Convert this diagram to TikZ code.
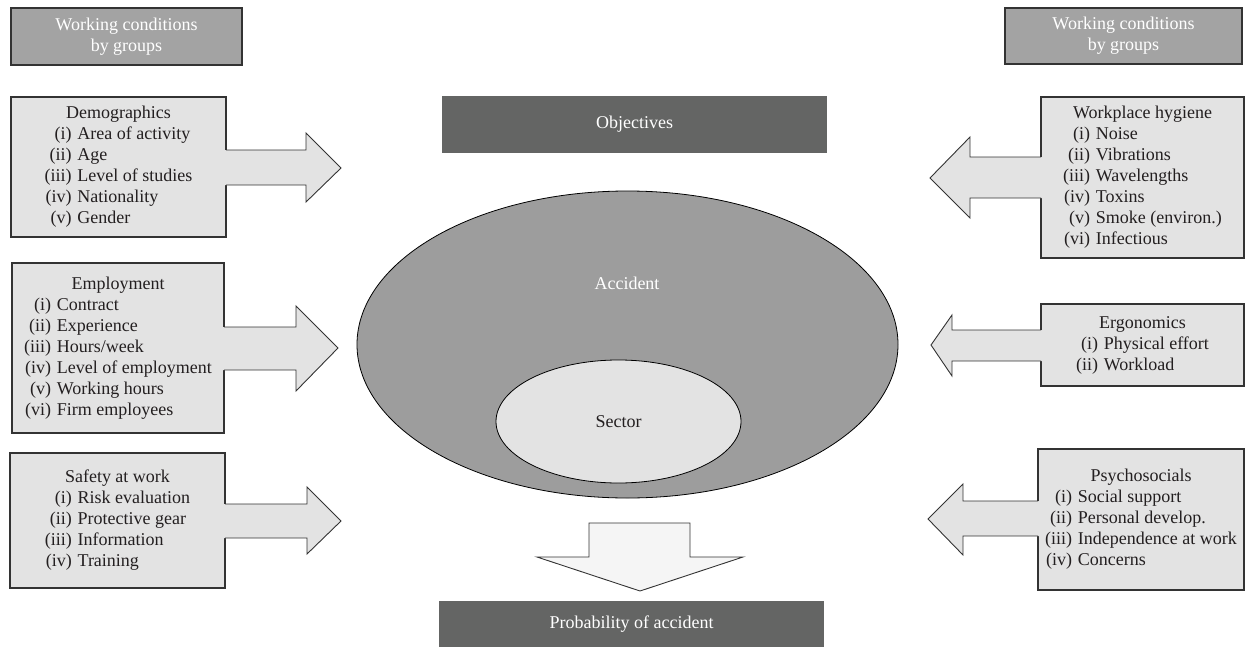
\documentclass[tikz,border=0pt]{standalone}
\usepackage{fontspec}
\setmainfont{Liberation Serif}
\usetikzlibrary{shapes.geometric}
\definecolor{hdrfill}{HTML}{A3A3A3}
\definecolor{itemfill}{HTML}{E3E3E3}
\definecolor{darkfill}{HTML}{646564}
\definecolor{accfill}{HTML}{9D9D9D}
\definecolor{downfill}{HTML}{F5F5F5}
\definecolor{ink}{HTML}{231F20}
\definecolor{edge}{HTML}{333333}
\newcommand{\grp}[2]{{\renewcommand{\arraystretch}{1}\begin{tabular}{@{}r@{\hspace{0.32em}}l@{}}\multicolumn{2}{c}{#1}\\#2\end{tabular}}}
\begin{document}
\begin{tikzpicture}[x=1pt,y=-1pt,
  font=\fontsize{18}{21}\selectfont, text=ink,
  hdrbox/.style={draw=edge, line width=1.1pt, fill=hdrfill, text=white, align=center, inner sep=0pt, outer sep=0pt},
  itembox/.style={draw=edge, line width=1.1pt, fill=itemfill, inner sep=0pt, outer sep=0pt},
  darkbox/.style={fill=darkfill, text=white, inner sep=0pt, outer sep=0pt},
  afill/.style={fill=itemfill},
  aline/.style={draw=edge, line width=0.9pt, line join=miter},
  lbl/.style={inner sep=0pt}
]
\useasboundingbox (0,0) rectangle (1245,648);

% headers
\node[hdrbox, minimum width=231, minimum height=57] (hl) at (126.5,36.5) {Working conditions\\by groups};
\node[hdrbox, minimum width=237, minimum height=56] (hr) at (1123.5,36) {Working conditions\\by groups};

% center
\node[darkbox, minimum width=385, minimum height=57] (obj) at (634.5,124.5) {Objectives};
\node[ellipse, draw=black, line width=0.8pt, fill=accfill, minimum width=541, minimum height=307, inner sep=0pt] (acc) at (627.5,344.5) {};
\node[lbl, text=white] (acct) at (627,283) {Accident};
\node[ellipse, draw=black, line width=0.8pt, fill=itemfill, minimum width=245, minimum height=123, inner sep=0pt] (sec) at (618.5,421.5) {Sector};
\node[darkbox, minimum width=385, minimum height=46] (prob) at (631.5,624) {Probability of accident};

% down arrow
\draw[aline, fill=downfill] (589,523) -- (690,523) -- (690,557) -- (743,557) -- (640,591) -- (537,557) -- (589,557) -- cycle;

% left boxes
\node[itembox, minimum width=215, minimum height=140] (demo) at (118.5,167)
  {\grp{Demographics}{(i)&Area of activity\\(ii)&Age\\(iii)&Level of studies\\(iv)&Nationality\\(v)&Gender}};
\node[itembox, minimum width=212, minimum height=170] (emp) at (118,348)
  {\grp{Employment}{(i)&Contract\\(ii)&Experience\\(iii)&Hours/week\\(iv)&Level of employment\\(v)&Working hours\\(vi)&Firm employees}};
\node[itembox, minimum width=215, minimum height=135] (saf) at (117.5,520.5)
  {\grp{Safety at work}{(i)&Risk evaluation\\(ii)&Protective gear\\(iii)&Information\\(iv)&Training}};

% right boxes
\node[itembox, minimum width=203, minimum height=161] (hyg) at (1142.5,177.5)
  {\grp{Workplace hygiene}{(i)&Noise\\(ii)&Vibrations\\(iii)&Wavelengths\\(iv)&Toxins\\(v)&Smoke (environ.)\\(vi)&Infectious}};
\node[itembox, minimum width=203, minimum height=82] (erg) at (1142.5,345)
  {\grp{Ergonomics}{(i)&Physical effort\\(ii)&Workload}};
\node[itembox, minimum width=206, minimum height=141] (psy) at (1141,519.5)
  {\grp{Psychosocials}{(i)&Social support\\(ii)&Personal develop.\\(iii)&Independence at work\\(iv)&Concerns}};

% block arrows (left side, pointing right)
\fill[afill] (225,150) -- (306,150) -- (306,133) -- (341,168) -- (306,202) -- (306,185) -- (225,185) -- cycle;
\draw[aline] (demo.east |- 0,150) -- (306,150) -- (306,133) -- (341,168) -- (306,202) -- (306,185) -- (demo.east |- 0,185);

\fill[afill] (223,327) -- (296,327) -- (296,306) -- (338,348) -- (296,391) -- (296,370) -- (223,370) -- cycle;
\draw[aline] (emp.east |- 0,327) -- (296,327) -- (296,306) -- (338,348) -- (296,391) -- (296,370) -- (emp.east |- 0,370);

\fill[afill] (224,504) -- (307,504) -- (307,487) -- (341,521) -- (307,554) -- (307,538) -- (224,538) -- cycle;
\draw[aline] (saf.east |- 0,504) -- (307,504) -- (307,487) -- (341,521) -- (307,554) -- (307,538) -- (saf.east |- 0,538);

% block arrows (right side, pointing left)
\fill[afill] (1042,157) -- (970,157) -- (970,137) -- (930,178) -- (970,218) -- (970,198) -- (1042,198) -- cycle;
\draw[aline] (hyg.west |- 0,157) -- (970,157) -- (970,137) -- (930,178) -- (970,218) -- (970,198) -- (hyg.west |- 0,198);

\fill[afill] (1042,330) -- (952,330) -- (952,315) -- (931,345) -- (952,376) -- (952,361) -- (1042,361) -- cycle;
\draw[aline] (erg.west |- 0,330) -- (952,330) -- (952,315) -- (931,345) -- (952,376) -- (952,361) -- (erg.west |- 0,361);

\fill[afill] (1039,501) -- (963,501) -- (963,484) -- (928,519) -- (963,555) -- (963,536) -- (1039,536) -- cycle;
\draw[aline] (psy.west |- 0,501) -- (963,501) -- (963,484) -- (928,519) -- (963,555) -- (963,536) -- (psy.west |- 0,536);
\end{tikzpicture}
\end{document}
